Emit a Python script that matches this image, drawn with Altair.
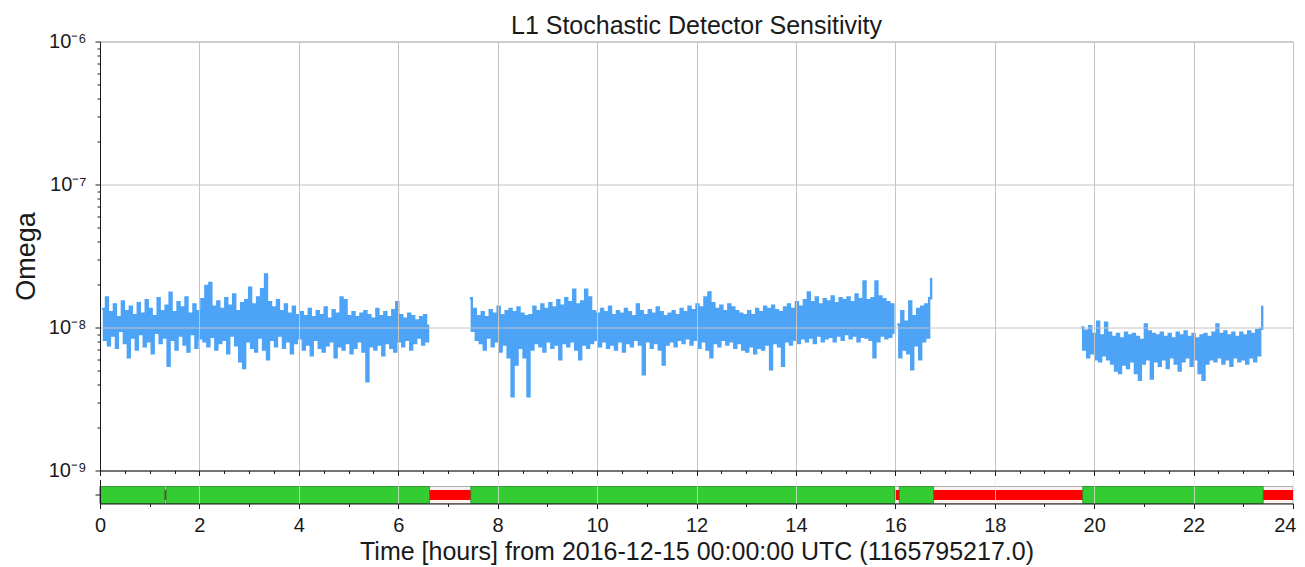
import altair as alt
import pandas as pd

title = "L1 Stochastic Detector Sensitivity"
x_title = "Time [hours] from 2016-12-15 00:00:00 UTC (1165795217.0)"
y_title = "Omega"
flag_name = "L1:DMT-ANALYSIS_READY:1"

# sampled sensitivity, in units of 1e-8, every 0.04 h from each start
step_h = 0.04
seg_starts = [0.04, 7.44, 16.04, 19.74]
seg1 = [
    1.35, 0.82, 1.62, 0.75, 1.28, 0.88, 1.45, 0.72, 1.18, 0.95,
    1.52, 0.78, 1.30, 0.62, 1.40, 0.85, 1.22, 0.70, 1.48, 0.90,
    1.25, 0.74, 1.55, 0.80, 1.35, 0.66, 1.20, 0.92, 1.60, 0.78,
    1.30, 0.85, 1.42, 0.54, 1.75, 0.82, 1.28, 0.70, 1.50, 0.88,
    1.38, 0.76, 1.62, 0.68, 1.25, 0.90, 1.45, 0.72, 1.30, 0.84,
    1.58, 0.80, 1.95, 0.74, 2.05, 0.86, 1.40, 0.70, 1.52, 0.78,
    1.35, 0.82, 1.60, 0.66, 1.42, 0.88, 1.70, 0.75, 1.30, 0.58,
    1.48, 0.52, 1.55, 0.80, 1.90, 0.72, 1.45, 0.68, 1.62, 0.85,
    1.85, 0.70, 2.35, 0.60, 1.50, 0.82, 1.38, 0.74, 1.55, 0.88,
    1.30, 0.72, 1.45, 0.80, 1.25, 0.66, 1.40, 0.78, 1.22, 0.84,
    1.28, 0.70, 1.20, 0.76, 1.35, 0.64, 1.18, 0.82, 1.30, 0.72,
    1.22, 0.68, 1.38, 0.75, 1.15, 0.80, 1.32, 0.62, 1.25, 0.74,
    1.62, 0.70, 1.55, 0.78, 1.20, 0.66, 1.28, 0.72, 1.18, 0.80,
    1.25, 0.68, 1.30, 0.42, 1.22, 0.74, 1.15, 0.70, 1.35, 0.76,
    1.20, 0.64, 1.28, 0.78, 1.18, 0.72, 1.32, 0.68, 1.50, 0.80,
    1.22, 0.74, 1.15, 0.82, 1.25, 0.70, 1.20, 0.78, 1.12, 0.85,
    1.18, 0.76, 1.22, 0.80, 1.05,
]
seg2 = [
    1.60, 0.95, 1.35, 0.82, 1.20, 0.78, 1.28, 0.70, 1.18, 0.85,
    1.32, 0.74, 1.25, 0.80, 1.40, 0.68, 1.22, 0.76, 1.30, 0.62,
    1.35, 0.33, 1.28, 0.55, 1.38, 0.72, 1.25, 0.62, 1.20, 0.33,
    1.22, 0.70, 1.40, 0.78, 1.30, 0.74, 1.45, 0.68, 1.35, 0.80,
    1.48, 0.72, 1.38, 0.76, 1.55, 0.60, 1.42, 0.78, 1.60, 0.74,
    1.50, 0.80, 1.84, 0.70, 1.45, 0.60, 1.52, 0.76, 1.84, 0.72,
    1.62, 0.78, 1.30, 0.82, 1.25, 0.74, 1.35, 0.80, 1.28, 0.72,
    1.40, 0.76, 1.22, 0.70, 1.30, 0.80, 1.25, 0.68, 1.35, 0.78,
    1.28, 0.74, 1.20, 0.82, 1.45, 0.76, 1.30, 0.47, 1.22, 0.80,
    1.32, 0.72, 1.25, 0.78, 1.38, 0.70, 1.28, 0.55, 1.20, 0.76,
    1.25, 0.80, 1.30, 0.74, 1.22, 0.82, 1.35, 0.78, 1.28, 0.84,
    1.40, 0.76, 1.32, 0.82, 1.45, 0.72, 1.38, 0.80, 1.62, 0.70,
    1.76, 0.62, 1.48, 0.78, 1.35, 0.74, 1.42, 0.82, 1.30, 0.76,
    1.45, 0.80, 1.38, 0.72, 1.30, 0.78, 1.25, 0.70, 1.22, 0.68,
    1.30, 0.74, 1.22, 0.66, 1.35, 0.72, 1.28, 0.70, 1.40, 0.76,
    1.35, 0.51, 1.42, 0.78, 1.32, 0.74, 1.28, 0.54, 1.38, 0.80,
    1.45, 0.76, 1.35, 0.82, 1.50, 0.78, 1.40, 0.84, 1.55, 0.80,
    1.76, 0.85, 1.50, 0.78, 1.62, 0.88, 1.45, 0.80, 1.58, 0.84,
    1.52, 0.86, 1.65, 0.80, 1.48, 0.88, 1.60, 0.82, 1.55, 0.90,
    1.62, 0.84, 1.50, 0.88, 1.70, 0.80, 1.58, 0.86, 2.10, 0.85,
    1.55, 0.82, 1.60, 0.62, 2.10, 0.80, 1.65, 0.88, 1.58, 0.84,
    1.50, 0.86, 1.45, 0.90,
]
seg3 = [
    1.05, 0.62, 1.30, 0.70, 1.10, 0.66, 1.52, 0.51, 1.20, 0.75,
    1.35, 0.60, 1.40, 0.80, 1.45, 0.85, 1.60, 2.23,
]
seg4 = [
    1.00, 0.70, 0.95, 0.62, 1.02, 0.66, 0.90, 0.60, 1.10, 0.58,
    0.88, 0.64, 1.08, 0.60, 0.92, 0.56, 0.86, 0.50, 0.90, 0.48,
    0.84, 0.55, 0.92, 0.52, 0.88, 0.58, 0.90, 0.48, 0.86, 0.43,
    0.82, 0.56, 1.05, 0.60, 0.94, 0.44, 0.90, 0.58, 0.88, 0.54,
    0.92, 0.60, 0.86, 0.52, 0.90, 0.62, 0.84, 0.56, 0.92, 0.50,
    0.88, 0.58, 0.94, 0.62, 0.86, 0.54, 0.90, 0.60, 0.84, 0.48,
    0.88, 0.43, 0.90, 0.56, 0.86, 0.60, 0.92, 0.58, 1.05, 0.62,
    0.90, 0.56, 0.94, 0.60, 0.88, 0.54, 0.92, 0.62, 0.86, 0.58,
    0.92, 0.60, 0.88, 0.56, 0.94, 0.62, 0.90, 0.58, 0.96, 0.64,
    0.98, 1.42,
]
unit = 1e-8

# segments (hours)
known_start = [0.0]
known_end = [24.0]
active_start = [0.0, 1.33, 7.46, 16.08, 19.77]
active_end = [1.30, 6.63, 15.99, 16.77, 23.40]

# axis ticks
x_ticks = [i * 0.5 for i in range(49)]
y_ticks = [m * 10.0 ** e for e in (-9, -8, -7) for m in range(1, 10)] + [1e-6]
y_major = [1e-9, 1e-8, 1e-7, 1e-6]
y_major_labels = ["10\u207b\u2079", "10\u207b\u2078", "10\u207b\u2077", "10\u207b\u2076"]

rows = []
for k, (s0, vals) in enumerate(zip(seg_starts, [seg1, seg2, seg3, seg4])):
    for i, v in enumerate(vals):
        rows.append({"hour": round(s0 + i * step_h, 4), "omega": v * unit, "seg": k})
df = pd.DataFrame(rows)
known_df = pd.DataFrame({"start": known_start, "end": known_end, "flag": flag_name})
active_df = pd.DataFrame({"start": active_start, "end": active_end, "flag": flag_name})

FONT = "Liberation Sans"
INK = "#1a1a1a"
GRID = "#c4c4c4"
major_x = "datum.value % 2 === 0"
last_x = "datum.value === 24"
decade = "abs(log(datum.value)/LN10 - round(log(datum.value)/LN10)) < 0.001"

y_label_expr = " : ".join(
    f"abs(datum.value - {v}) < {v * 1e-3} ? '{lab}'" for v, lab in zip(y_major, y_major_labels)
) + " : ''"

xscale = alt.Scale(domain=[0, 24], nice=False, zero=False)

main_x_axis = alt.Axis(
    values=x_ticks, labels=False, title=None, ticks=True,
    tickSize={"condition": {"test": major_x, "value": 5}, "value": 3},
    tickColor=INK, domainColor=INK, grid=True, gridColor=GRID,
    gridOpacity={"condition": {"test": major_x, "value": 1}, "value": 0},
    zindex=1,
)
main_y_axis = alt.Axis(
    values=y_ticks, labelExpr=y_label_expr, title=y_title,
    tickSize={"condition": {"test": decade, "value": 5}, "value": 3},
    tickColor=INK, domainColor=INK, grid=True, gridColor=GRID,
    gridOpacity={"condition": {"test": decade, "value": 1}, "value": 0},
    labelFontSize=20, labelFont=FONT, labelColor=INK, labelPadding=9,
    titleFontSize=27, titleFont=FONT, titleFontWeight="normal", titleColor=INK,
    titlePadding=8, zindex=1,
)

main = alt.Chart(df).mark_line(
    color="#4da3f5", strokeWidth=2.4, clip=True, interpolate="step-after"
).encode(
    x=alt.X("hour:Q", scale=xscale, axis=main_x_axis),
    y=alt.Y("omega:Q", scale=alt.Scale(type="log", domain=[1e-9, 1e-6], nice=False), axis=main_y_axis),
    detail="seg:N",
).properties(
    width=1193, height=429,
    view=alt.ViewBackground(stroke="#b0b0b0", strokeWidth=1),
    title=alt.TitleParams(title, fontSize=25, font=FONT, fontWeight="normal", color=INK,
                          anchor="middle", frame="group", offset=-7.5),
)

seg_x_axis = alt.Axis(
    values=x_ticks, title=x_title,
    labelExpr=f"{major_x} ? format(datum.value, 'd') : ''",
    labelAlign={"condition": {"test": last_x, "value": "right"}, "value": "center"},
    labelOffset={"condition": {"test": last_x, "value": 3}, "value": 0},
    tickSize={"condition": {"test": major_x, "value": 5}, "value": 3},
    tickColor=INK, domainColor=INK, grid=True, gridColor="#e6e6e6",
    gridOpacity={"condition": {"test": major_x, "value": 0.7}, "value": 0},
    labelFontSize=20, labelFont=FONT, labelColor=INK, labelPadding=7,
    titleFontSize=25, titleFont=FONT, titleFontWeight="normal", titleColor=INK,
    titlePadding=4, zindex=1, labelFlush=False,
)
seg_y = alt.Y(
    "flag:N",
    scale=alt.Scale(paddingInner=0, paddingOuter=0.206, align=1),
    axis=alt.Axis(labels=False, title=None, ticks=True, tickSize=5, tickColor=INK,
                  domain=True, domainColor=INK, grid=False),
)

pale = alt.Chart(known_df).mark_rect(fill="#fbf1f1", stroke="#9a9a9a", strokeWidth=0.8).encode(
    x=alt.X("start:Q", scale=xscale, axis=seg_x_axis), x2="end:Q", y=seg_y,
)
red = alt.Chart(known_df).mark_bar(size=10, color="#ff0000").encode(
    x="start:Q", x2="end:Q", y="flag:N",
)
green = alt.Chart(active_df).mark_rect(fill="#33cc33", stroke="#2a8a2a", strokeWidth=0.8).encode(
    x="start:Q", x2="end:Q", y="flag:N",
)
seg_panel = alt.layer(pale, red, green).properties(
    width=1193, height=24,
    view=alt.ViewBackground(stroke="transparent"),
)

chart = alt.vconcat(main, seg_panel, spacing=9, bounds="flush").properties(
    padding={"left": 3, "top": 5.5, "right": 0, "bottom": 0},
).configure(font=FONT)

chart.save("out.html", embed_options={"renderer": "svg", "actions": False})
